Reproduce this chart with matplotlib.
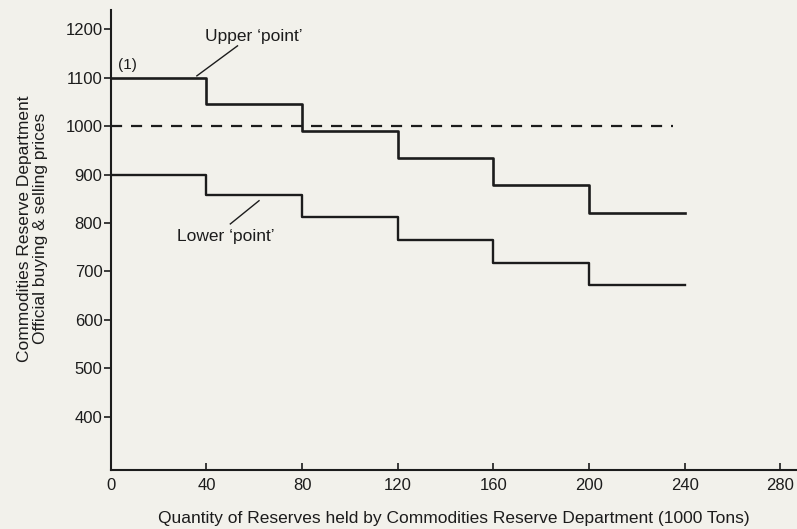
import matplotlib.pyplot as plt
import numpy as np

plt.rcParams['font.family'] = ['Liberation Sans', 'DejaVu Sans']

# step edges (1000 tons) and price levels
edges = [0, 40, 80, 120, 160, 200, 240]
upper = [1100, 1045, 990, 935, 878, 820]
lower = [900, 857, 812, 765, 718, 672]
target = 1000
x_ticks = [0, 40, 80, 120, 160, 200, 240, 280]
y_ticks = [400, 500, 600, 700, 800, 900, 1000, 1100, 1200]

paper = '#f2f1eb'
ink = '#1c1c1c'

fig = plt.figure(figsize=(7.97, 5.29), dpi=100, facecolor=paper)
ax = fig.add_axes([0.139, 0.112, 0.861, 0.869], facecolor=paper)

ax.step(edges, upper + upper[-1:], where='post', color=ink, lw=1.9)
ax.step(edges, lower + lower[-1:], where='post', color=ink, lw=1.7)
ax.plot([0, 235], [target, target], color=ink, lw=1.6, ls=(0, (5, 4)))

ax.text(3, 1118, '(1)', fontsize=11, color=ink)
ax.text(60, 1185, "Upper \u2018point\u2019", fontsize=12.5, ha='center', va='center', color=ink)
ax.plot([53, 36], [1166, 1104], color=ink, lw=1)
ax.text(48, 772, "Lower \u2018point\u2019", fontsize=12.5, ha='center', va='center', color=ink)
ax.plot([50, 62], [798, 846], color=ink, lw=1)

ax.set_xlim(0, 287)
ax.set_ylim(290, 1240)
ax.set_xticks(x_ticks)
ax.set_yticks(y_ticks)
ax.spines['top'].set_visible(False)
ax.spines['right'].set_visible(False)
for s in ['left', 'bottom']:
    ax.spines[s].set_color(ink)
    ax.spines[s].set_linewidth(1.5)
ax.tick_params(axis='y', direction='out', length=5, width=1.2, colors=ink, labelsize=12, pad=1)
ax.tick_params(axis='x', direction='in', length=5, width=1.2, colors=ink, labelsize=12, pad=6)

ax.set_xlabel('Quantity of Reserves held by Commodities Reserve Department (1000 Tons)',
              fontsize=12.5, color=ink, labelpad=13)
ax.set_ylabel('Commodities Reserve Department\nOfficial buying & selling prices',
              fontsize=12.5, color=ink, linespacing=1.05)
ax.yaxis.set_label_coords(-0.092, 0.525)

fig.savefig('out.png', dpi=100, facecolor=paper)
